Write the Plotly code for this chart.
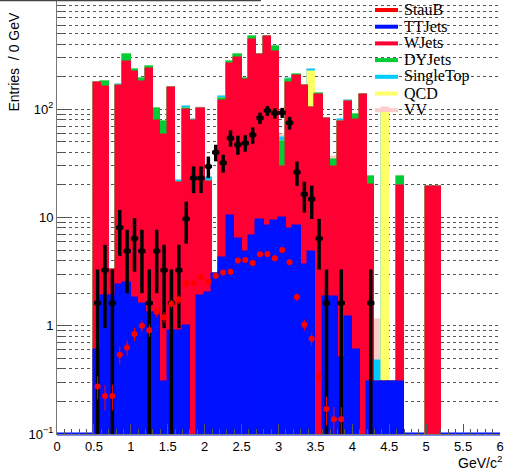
import plotly.graph_objects as go

# ---------------- data ----------------
bins = [0.55, 0.65, 0.75, 0.85, 0.95, 1.05, 1.15, 1.25, 1.35, 1.45,
        1.55, 1.65, 1.75, 1.85, 1.95, 2.05, 2.15, 2.25, 2.35, 2.45,
        2.55, 2.65, 2.75, 2.85, 2.95, 3.05, 3.15, 3.25, 3.35, 3.45,
        3.55, 3.65, 3.75, 3.85, 3.95, 4.05, 4.15, 4.25, 4.35, 4.45,
        4.55, 4.65, 4.75, 4.85, 4.95, 5.05, 5.15]
bin_width = 0.1

ttjets = [0.6, 1.9, 1.9, 2.4, 2.5, 1.8, 1.6, 1.3, 1.3, 0.3,
          0.9, 0.9, 1.0, 0, 1.9, 2.0, 3.0, 4.2, 10.3, 6.3,
          4.85, 6.75, 9.4, 8.3, 9.2, 9.9, 7.8, 8.3, 3.65, 4.85,
          0, 1.84, 1.84, 0.5, 1.2, 0.6, 0, 0.3, 0.3, 0.3,
          0.3, 0.3, 0, 0, 0, 0, 0]
wjets = [173, 160, 1.4, 160, 272, 220, 178, 233, 77, 58,
         155, 20, 97.5, 78, 98, 19.3, 0, 115, 250, 294,
         181, 430, 308, 455, 331, 19.6, 166, 195, 160, 97,
         136, 79, 27.7, 76.5, 116, 79, 135.5, 19.7, 0, 0,
         0, 19.4, 0, 0, 0, 19.3, 19.3]
dyjets = [2, 15, 0, 1, 42, 9, 9, 10, 21.5, 18,
          1, 0, 3, 0, 0, 0, 0, 4, 15, 17,
          4, 26, 3, 5, 34, 20.5, 14, 2, 1, 0,
          1, 0, 4.5, 0, 0, 9, 0, 3.9, 0, 0,
          0, 4.2, 0, 0, 0, 0, 0]
qcd = [0, 0, 0, 0, 0, 0, 0, 0, 0, 0,
       0, 0, 0, 0, 0, 0, 0, 0, 0, 0,
       0, 0, 0, 0, 0, 0, 0, 0, 0, 120,
       0, 0, 0, 0, 0, 0, 0, 0, 0, 94.7,
       0, 0, 0, 0, 0, 0, 0]
singletop = [0.5, 0, 0, 3, 0, 0, 0, 0, 0, 0,
             0, 1, 2.5, 1.7, 0, 1.8, 0, 6, 0, 0,
             0, 0, 0, 0, 5, 4, 2, 0, 0, 8,
             0, 0, 0, 2.6, 1, 0, 0, 0, 0.17, 0,
             0, 0, 0, 0, 0, 0, 0]
vv = [0, 0, 0, 0, 0, 0, 0, 0, 0, 0,
      0, 0, 0, 0, 2, 0, 0, 0, 0, 0,
      0, 0, 0, 0, 0, 4, 0, 0, 0, 0,
      0, 0, 2.5, 0, 0, 0, 0, 0, 0.66, 7,
      0, 0, 0, 0, 0, 0, 0]

data_x = [0.55, 0.65, 0.75, 0.85, 0.95, 1.05, 1.15, 1.25, 1.35, 1.45,
          1.55, 1.65, 1.75, 1.85, 1.95, 2.05, 2.15, 2.25, 2.35, 2.45,
          2.55, 2.65, 2.75, 2.85, 2.95, 3.05, 3.15, 3.25, 3.35, 3.45,
          3.55, 3.65, 3.85, 4.25]
data_y = [1.62, 3.26, 1.62, 8.07, 4.9, 6.4, 4.9, 1.62, 4.9, 3.26,
          1.62, 3.26, 9.7, 23.1, 23.1, 29.6, 40, 32, 54, 47,
          48.6, 58, 83, 97, 92, 93, 75, 26.2, 16.4, 14.8,
          6.4, 1.62, 1.62, 1.62]
data_err_up = [1.68, 2.34, 1.68, 3.68, 2.8, 3.5, 2.8, 1.68, 2.8, 2.34,
               1.68, 2.34, 4.3, 6.5, 6.5, 7, 7, 6, 10, 10,
               9, 10, 10, 10, 10, 10, 10, 6.7, 5, 4.9,
               3.3, 1.68, 1.68, 1.68]
data_err_dn = [1.61, 2.31, 1.61, 3.65, 2.9, 3.24, 2.9, 1.61, 2.9, 2.31,
               1.61, 2.31, 3.95, 6.3, 6.3, 6.5, 7, 6, 9, 9,
               8, 10, 10, 10, 10, 10, 10, 6.6, 5.3, 5.1,
               3.1, 1.61, 1.61, 1.61]

stau_x = [0.55, 0.65, 0.75, 0.85, 0.95, 1.05, 1.15, 1.25, 1.35, 1.45,
          1.55, 1.65, 1.75, 1.85, 1.95, 2.05, 2.15, 2.25, 2.35, 2.45,
          2.55, 2.65, 2.75, 2.85, 2.95, 3.05, 3.15, 3.25, 3.35, 3.45,
          3.55, 3.65, 3.75, 3.85]
stau_y = [0.275, 0.225, 0.225, 0.54, 0.63, 0.84, 1.0, 0.91, 1.34, 1.2,
          1.6, 1.75, 2.47, 2.47, 2.8, 2.56, 2.9, 3.1, 3.16, 4.0,
          4.06, 3.8, 4.58, 4.6, 4.2, 5.0, 3.85, 1.84, 1.02, 0.76,
          0.34, 0.17, 0.137, 0.137]
stau_err = [0.065, 0.06, 0.06, 0.1, 0.1, 0.12, 0.12, 0.12, 0.15, 0.14,
            0.15, 0.16, 0.2, 0.2, 0.2, 0.2, 0.2, 0.2, 0.2, 0.25,
            0.25, 0.25, 0.25, 0.25, 0.25, 0.3, 0.25, 0.15, 0.12, 0.1,
            0.06, 0.05, 0.04, 0.04]

y_tick_vals = [0.1, 1, 10, 100]
y_tick_text = ["10<sup>\u22121</sup>", "1", "10", "10<sup>2</sup>"]
legend_names = ["StauB", "TTJets", "WJets", "DYJets", "SingleTop", "QCD", "VV"]

# ---------------- style ----------------
C_STAU = "#ff0000"
C_TT = "#0011ff"
C_WJ = "#ff0033"
C_DY = "#00cc33"
C_ST = "#00ccff"
C_QCD = "#ffff66"
C_VV = "#ffcccc"
legend_colors = [C_STAU, C_TT, C_WJ, C_DY, C_ST, C_QCD, C_VV]

W, H = 506, 473
PL, PR, PT, PB = 57, 500, 1, 434


def px_x(p):
    return (p - PL) / (PR - PL)


def px_y(p):
    return (PB - p) / (PB - PT)


# stack (bottom -> top)
stack = [(ttjets, C_TT), (wjets, C_WJ), (dyjets, C_DY),
         (qcd, C_QCD), (singletop, C_ST), (vv, C_VV)]
cumulative = []
running = [0.0] * len(bins)
for vals, col in stack:
    running = [r + v for r, v in zip(running, vals)]
    cumulative.append((list(running), col))

fig = go.Figure()
# draw largest cumulative first (ROOT/RooFit style)
for cum, col in reversed(cumulative):
    fig.add_trace(go.Bar(
        x=bins, y=[c if c > 0 else None for c in cum], width=bin_width,
        marker=dict(color=col, line=dict(color=col, width=1.5)),
        opacity=1, showlegend=False, hoverinfo="skip"))

fig.add_trace(go.Scatter(
    x=data_x, y=data_y, mode="markers",
    marker=dict(color="black", size=5, symbol="square"),
    error_y=dict(type="data", symmetric=False, array=data_err_up,
                 arrayminus=data_err_dn, color="black", thickness=3.5, width=0),
    error_x=dict(type="constant", value=bin_width / 2, color="black",
                 thickness=3.5, width=0),
    showlegend=False, hoverinfo="skip"))

fig.add_trace(go.Scatter(
    x=stau_x, y=stau_y, mode="markers",
    marker=dict(color=C_STAU, size=6, symbol="circle"),
    error_y=dict(type="data", array=stau_err, color=C_STAU, thickness=1, width=0),
    showlegend=False, hoverinfo="skip"))

minor_y = [m * 10 ** k for k in (-1, 0, 1, 2) for m in range(2, 10)]

fig.update_layout(
    width=W, height=H,
    margin=dict(l=PL, r=W - PR, t=PT, b=H - PB, pad=0, autoexpand=False),
    paper_bgcolor="white", plot_bgcolor="white",
    barmode="overlay", bargap=0,
    font=dict(family="Liberation Sans, Arial, sans-serif", size=13, color="black"),
    xaxis=dict(range=[0, 6], tick0=0, dtick=0.5, ticks="inside", ticklen=10,
               tickcolor="#555", showline=True, linecolor="#777", linewidth=1,
               showgrid=False, zeroline=False, automargin=False,
               minor=dict(dtick=0.1, tick0=0, ticks="inside", ticklen=5,
                          tickcolor="#555", showgrid=False),
               tickfont=dict(size=13)),
    yaxis=dict(type="log", range=[-1, 3], tickmode="array",
               tickvals=y_tick_vals, ticktext=y_tick_text,
               ticks="inside", ticklen=12, tickcolor="#555",
               showline=True, linecolor="#777", linewidth=1,
               showgrid=True, gridcolor="#555", griddash="dot", gridwidth=1,
               zeroline=False, automargin=False,
               minor=dict(tickmode="array", tickvals=minor_y, ticks="inside",
                          ticklen=7, tickcolor="#555", showgrid=True,
                          gridcolor="#555", griddash="dot", gridwidth=1),
               tickfont=dict(size=13)),
)

shapes = []
annotations = []
# bottom blue edge of the TT histogram and the title box edge
shapes.append(dict(type="line", xref="paper", yref="paper", x0=0, x1=1,
                   y0=0, y1=0, line=dict(color=C_TT, width=3), layer="below"))
shapes.append(dict(type="line", xref="paper", yref="paper",
                   x0=px_x(0), x1=px_x(261), y0=px_y(0.5), y1=px_y(0.5),
                   line=dict(color="#444", width=1.5)))

# legend (ROOT-style: line samples + serif text)
for i, (name, col) in enumerate(zip(legend_names, legend_colors)):
    yc = 10 + 16.7 * i
    shapes.append(dict(type="line", xref="paper", yref="paper",
                       x0=px_x(375), x1=px_x(398), y0=px_y(yc), y1=px_y(yc),
                       line=dict(color=col, width=4)))
    annotations.append(dict(xref="paper", yref="paper", x=px_x(402),
                            y=px_y(yc - 0.5), text=name, showarrow=False,
                            xanchor="left", yanchor="middle",
                            font=dict(family="Liberation Serif, Times New Roman, serif",
                                      size=16, color="black")))

annotations.append(dict(xref="paper", yref="paper", x=px_x(13), y=px_y(11),
                        text="Entries  / 0 GeV", textangle=-90, showarrow=False,
                        xanchor="center", yanchor="top",
                        font=dict(size=14, color="black")))
annotations.append(dict(xref="paper", yref="paper", x=px_x(504), y=px_y(462),
                        text="GeV/c<sup>2</sup>", showarrow=False,
                        xanchor="right", yanchor="middle",
                        font=dict(size=14, color="black")))

fig.update_layout(shapes=shapes, annotations=annotations)
fig.write_html("out.html",
               config={"displayModeBar": False},
               post_script="document.body.style.margin='0';"
                           "document.body.style.overflow='hidden';")
